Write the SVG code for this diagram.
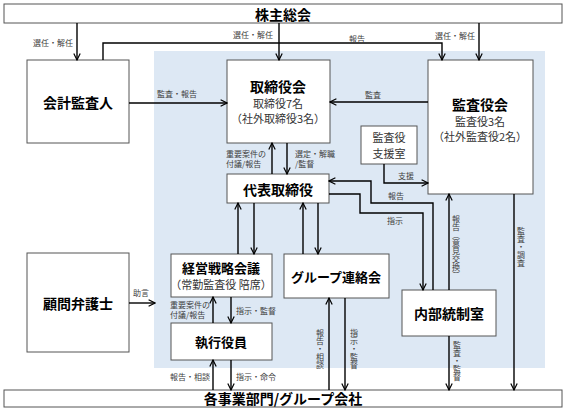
<svg xmlns="http://www.w3.org/2000/svg" width="567" height="412" viewBox="0 0 567 412">
<style>
text{font-family:"Noto Sans CJK JP","Noto Sans",sans-serif;fill:#000}
.box{fill:#fff;stroke:#555;stroke-width:1}
.t{font-size:14px;font-weight:bold;text-anchor:middle;dominant-baseline:central}
.m{font-size:13px;font-weight:bold;text-anchor:middle;dominant-baseline:central}
.s{font-size:11px;text-anchor:middle;dominant-baseline:central;fill:#333}
.l{font-size:8px;fill:#404040;dominant-baseline:central}
.v{font-size:8px;fill:#404040;text-anchor:middle;writing-mode:vertical-rl;text-orientation:mixed}
.c path{fill:none;stroke:#000;stroke-width:1.4}
</style>
<defs>
<marker id="a" viewBox="0 0 10 10" refX="9" refY="5" markerWidth="8" markerHeight="8" markerUnits="userSpaceOnUse" orient="auto">
<path d="M1,1 L9,5 L1,9" fill="none" stroke="#000" stroke-width="1.5"/>
</marker>
</defs>
<rect x="154" y="51" width="391" height="317" fill="#dde8f4"/>
<g id="shareholders"><rect class="box" x="4" y="4" width="558" height="19"/><text class="t" x="283" y="14">株主総会</text></g>
<g id="business"><rect class="box" x="4" y="390" width="558" height="17"/><text class="t" x="283" y="398">各事業部門/グループ会社</text></g>
<g id="auditor"><rect class="box" x="27" y="60" width="102" height="83"/><text class="t" x="78" y="102">会計監査人</text></g>
<g id="lawyer"><rect class="box" x="27" y="253" width="102" height="99"/><text class="t" x="78" y="303">顧問弁護士</text></g>
<g id="board"><rect class="box" x="227" y="60" width="103" height="83"/><text class="t" x="278" y="86">取締役会</text><text class="s" x="278" y="103">取締役7名</text><text class="s" x="278" y="118">（社外取締役3名）</text></g>
<g id="kansayakukai"><rect class="box" x="428" y="60" width="105" height="134"/><text class="t" x="480" y="104">監査役会</text><text class="s" x="480" y="121">監査役3名</text><text class="s" x="480" y="136">（社外監査役2名）</text></g>
<g id="support"><rect class="box" x="361" y="126" width="56" height="38"/><text class="s" x="389" y="137">監査役</text><text class="s" x="389" y="153">支援室</text></g>
<g id="ceo"><rect class="box" x="227" y="174" width="102" height="29"/><text class="t" x="278" y="189">代表取締役</text></g>
<g id="strategy"><rect class="box" x="171" y="254" width="101" height="43"/><text class="m" x="221" y="267">経営戦略会議</text><text class="s" x="221" y="284">（常勤監査役 陪席）</text></g>
<g id="group"><rect class="box" x="284" y="254" width="105" height="44"/><text class="m" x="336" y="276">グループ連絡会</text></g>
<g id="officers"><rect class="box" x="171" y="323" width="101" height="37"/><text class="m" x="221" y="341">執行役員</text></g>
<g id="internal"><rect class="box" x="402" y="290" width="94" height="46"/><text class="t" x="449" y="313">内部統制室</text></g>
<g class="c" id="connectors">
<path d="M77,23 V60" marker-end="url(#a)"/>
<path d="M279,23 V60" marker-end="url(#a)"/>
<path d="M479,23 V60" marker-end="url(#a)"/>
<path d="M103,60 V43 H442 V60" marker-end="url(#a)"/>
<path d="M129,103 H227" marker-end="url(#a)"/>
<path d="M428,102 H330" marker-end="url(#a)"/>
<path d="M272,174 V143" marker-end="url(#a)"/>
<path d="M287,143 V174" marker-end="url(#a)"/>
<path d="M238,254 V203" marker-end="url(#a)"/>
<path d="M254,203 V254" marker-end="url(#a)"/>
<path d="M303,254 V203" marker-end="url(#a)"/>
<path d="M318,203 V254" marker-end="url(#a)"/>
<path d="M433,290 V203 H371 V181 H329" marker-end="url(#a)"/>
<path d="M329,194 H360 V213 H423 V290" marker-end="url(#a)"/>
<path d="M384,164 V183 H428" marker-end="url(#a)"/>
<path d="M449,290 V194" marker-end="url(#a)"/>
<path d="M514,194 V390" marker-end="url(#a)"/>
<path d="M449,336 V390" marker-end="url(#a)"/>
<path d="M329,390 V298" marker-end="url(#a)"/>
<path d="M345,298 V390" marker-end="url(#a)"/>
<path d="M213,323 V297" marker-end="url(#a)"/>
<path d="M231,297 V323" marker-end="url(#a)"/>
<path d="M213,390 V360" marker-end="url(#a)"/>
<path d="M231,360 V390" marker-end="url(#a)"/>
<path d="M129,303 H155" marker-end="url(#a)"/>
</g>
<g id="labels">
<text class="l" x="33" y="42">選任・解任</text>
<text class="l" x="233" y="34">選任・解任</text>
<text class="l" x="435" y="35">選任・解任</text>
<text class="l" x="349" y="38">報告</text>
<text class="l" x="157" y="93">監査・報告</text>
<text class="l" x="365" y="94">監査</text>
<text class="l" x="226" y="153">重要案件の</text>
<text class="l" x="226" y="163">付議/報告</text>
<text class="l" x="295" y="153">選定・解職</text>
<text class="l" x="295" y="163">/監督</text>
<text class="l" x="398" y="175">支援</text>
<text class="l" x="388" y="195">報告</text>
<text class="l" x="387" y="220">指示</text>
<text class="l" x="170" y="304">重要案件の</text>
<text class="l" x="170" y="314">付議/報告</text>
<text class="l" x="236" y="310">指示・監督</text>
<text class="l" x="170" y="376">報告・相談</text>
<text class="l" x="236" y="376">指示・命令</text>
<text class="l" x="133" y="292">助言</text>
<text class="v" x="456" y="247">報告（意見交換）</text>
<text class="v" x="521" y="247">監査・調査</text>
<text class="v" x="457" y="361">監査・監督</text>
<text class="v" x="320" y="349">報告・相談</text>
<text class="v" x="354" y="349">指示・監督</text>
</g>
</svg>
